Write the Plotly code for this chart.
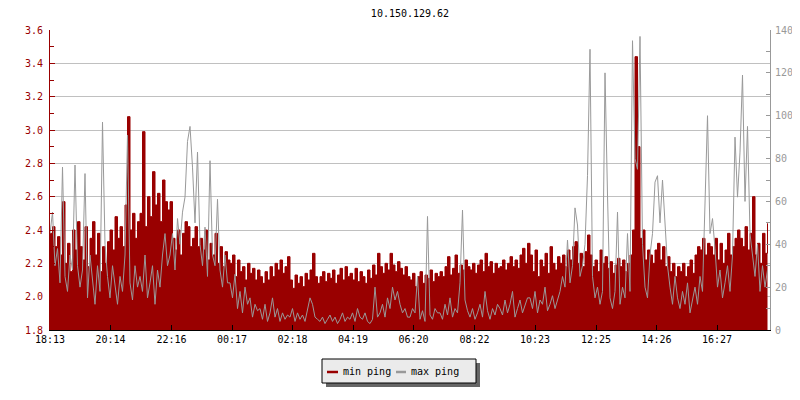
"""Ping latency chart for a single host: min ping (left axis) vs max ping (right axis)."""

from __future__ import annotations

from typing import Any

import pandas as pd
import plotly.graph_objects as go

# Host and time axis
HOST = "10.150.129.62"
START = "2024-01-01 18:13"
STEP_MIN = 5
TICK_LABELS = [
    "18:13", "20:14", "22:16", "00:17", "02:18", "04:19",
    "06:20", "08:22", "10:23", "12:25", "14:26", "16:27",
]

# min ping, one value per 5 minutes (left axis)
MIN_PING = [
    2.38, 2.42, 2.30, 2.36, 2.25, 2.57, 2.20, 2.32, 2.15, 2.40, 2.28, 2.45,
    2.30, 2.22, 2.42, 2.18, 2.35, 2.45, 2.25, 2.38, 2.15, 2.30, 2.20, 2.33,
    2.40, 2.28, 2.48, 2.35, 2.42, 2.30, 2.55, 3.08, 2.40, 2.50, 2.35, 2.45,
    2.50, 2.99, 2.42, 2.60, 2.48, 2.75, 2.55, 2.62, 2.45, 2.70, 2.57, 2.52,
    2.57, 2.35, 2.28, 2.40, 2.25, 2.38, 2.45, 2.42, 2.30, 2.35, 2.42, 2.30,
    2.35, 2.28, 2.40, 2.22, 2.32, 2.25, 2.38, 2.20, 2.30, 2.18, 2.27, 2.22,
    2.20, 2.25, 2.12, 2.22, 2.15, 2.18, 2.10, 2.20, 2.14, 2.17, 2.10, 2.16,
    2.12, 2.08, 2.15, 2.10, 2.18, 2.12, 2.20, 2.16, 2.22, 2.14, 2.18, 2.24,
    2.10, 2.05, 2.13, 2.08, 2.12, 2.06, 2.14, 2.10, 2.16, 2.26, 2.12, 2.08,
    2.12, 2.15, 2.09, 2.14, 2.11, 2.16, 2.08, 2.13, 2.17, 2.10, 2.18, 2.12,
    2.14, 2.10, 2.17, 2.09, 2.15, 2.12, 2.08, 2.16, 2.11, 2.19, 2.13, 2.26,
    2.18, 2.14, 2.20, 2.16, 2.26, 2.19, 2.15, 2.21, 2.17, 2.13, 2.18, 2.12,
    2.10, 2.14, 2.06, 2.12, 2.15, 2.08, 2.13, 2.11, 2.16, 2.09, 2.14, 2.12,
    2.15, 2.12, 2.18, 2.24, 2.13, 2.17, 2.25, 2.14, 2.19, 2.16, 2.22, 2.18,
    2.16, 2.20, 2.14, 2.19, 2.22, 2.15, 2.26, 2.18, 2.21, 2.14, 2.20, 2.17,
    2.18, 2.22, 2.16, 2.20, 2.24, 2.18, 2.22, 2.17, 2.25, 2.29, 2.20, 2.32,
    2.25, 2.15, 2.28, 2.12, 2.22, 2.18, 2.26, 2.14, 2.30, 2.20, 2.16, 2.24,
    2.20, 2.25, 2.18, 2.28, 2.22, 2.30, 2.33, 2.20, 2.26, 2.18, 2.27, 2.37,
    2.25, 2.18, 2.22, 2.15, 2.28, 2.20, 2.24, 2.17, 2.21, 2.14, 2.19, 2.23,
    2.18, 2.22, 2.15, 2.20, 2.25, 2.40, 3.44, 2.90, 2.35, 2.40, 2.22, 2.28,
    2.25, 2.20, 2.28, 2.32, 2.22, 2.30, 2.18, 2.24, 2.15, 2.20, 2.12, 2.18,
    2.15, 2.20, 2.12, 2.18, 2.22, 2.14, 2.25, 2.30, 2.28, 2.35, 2.25, 2.32,
    2.30, 2.25, 2.35, 2.22, 2.32, 2.20, 2.28, 2.38, 2.25, 2.30, 2.35, 2.40,
    2.35, 2.30, 2.42, 2.28, 2.38, 2.60, 2.25, 2.32, 2.20, 2.38, 2.26, 2.44,
]

# max ping, same timestamps (right axis)
MAX_PING = [
    45, 55, 30, 38, 22, 76, 25, 18, 35, 28, 77, 30,
    20, 28, 73, 15, 35, 22, 12, 30, 18, 97, 40, 25,
    15, 30, 20, 12, 25, 18, 35, 91, 22, 14, 30, 20,
    25, 18, 35, 15, 22, 30, 12, 28, 20, 35, 45, 30,
    35, 45, 28, 52, 40, 55, 62, 88, 95, 76, 50, 83,
    40, 30, 48, 25, 79, 35, 30, 61, 28, 20, 35, 22,
    22, 15, 26, 10, 18, 8, 20, 12, 15, 6, 12, 9,
    10, 5, 12, 4, 8, 15, 6, 10, 4, 8, 5, 7,
    6, 10, 4, 8, 5, 7, 4, 9, 15, 12, 6, 5,
    4, 6, 3, 5, 7, 4, 6, 3, 5, 8, 4, 6,
    5, 8, 4, 10, 6, 5, 8, 4, 3, 5, 20, 6,
    8, 12, 6, 15, 10, 20, 14, 18, 12, 8, 10, 6,
    6, 10, 8, 25, 5, 9, 4, 53, 7, 5, 10, 8,
    8, 5, 12, 7, 15, 6, 10, 8, 22, 56, 14, 9,
    6, 10, 5, 8, 12, 6, 18, 9, 5, 10, 7, 12,
    10, 7, 14, 8, 12, 18, 6, 10, 14, 8, 12, 15,
    15, 10, 18, 8, 14, 12, 20, 9, 12, 16, 10, 14,
    18, 25, 20, 42, 22, 30, 57, 49, 25, 30, 40, 72,
    131, 25, 15, 20, 12, 18, 120, 63, 15, 10, 18, 55,
    12, 20, 15, 45, 18, 135, 80, 75, 137, 40, 20, 15,
    35, 45, 69, 72, 50, 70, 52, 30, 20, 12, 25, 15,
    10, 18, 12, 22, 8, 15, 20, 12, 25, 18, 64, 100,
    45, 52, 38, 20, 28, 15, 22, 30, 18, 35, 90, 62,
    83, 119, 60, 95, 45, 35, 25, 40, 18, 30, 20, 28,
]

_RED = "#990000"
_GREY = "#999999"
_GRID = "#c0c0c0"
_FONT = "DejaVu Sans Mono"

# The page body keeps its default 8px margin, so the figure is drawn 8px
# right/down of the window corner. Sizes are chosen so the plot area lands
# on window pixels x 50..770, y 30..330 (automargin is switched off below,
# otherwise the default template widens the right margin).
_OFF = 8
_W, _H = 800 - _OFF, 400 - _OFF
_L, _T = 50 - _OFF, 30 - _OFF
_R, _B = _W - _L - 720, _H - _T - 300


def _px(x: float) -> float:
    """Window pixel x -> paper coordinate."""
    return (x - 50) / 720


def _py(y: float) -> float:
    """Window pixel y -> paper coordinate."""
    return (330 - y) / 300


def _tick_times(start: pd.Timestamp) -> list[pd.Timestamp]:
    out = []
    for lab in TICK_LABELS:
        t = pd.Timestamp(f"{start.date()} {lab}")
        if t < start:
            t += pd.Timedelta(days=1)
        out.append(t)
    return out


def build_ping_chart() -> Any:
    start = pd.Timestamp(START)
    times = pd.date_range(start, periods=len(MIN_PING), freq=f"{STEP_MIN}min")

    fig: Any = go.Figure()
    fig.add_trace(
        go.Scatter(
            x=times,
            y=MIN_PING,
            name="min ping",
            mode="lines",
            line={"color": _RED, "width": 1, "shape": "hv"},
            fill="tozeroy",
            fillcolor=_RED,
        )
    )
    fig.add_trace(
        go.Scatter(
            x=times,
            y=MAX_PING,
            name="max ping",
            yaxis="y2",
            mode="lines",
            line={"color": _GREY, "width": 1},
        )
    )

    tick_font = {"family": _FONT, "size": 10}
    fig.update_layout(
        width=_W,
        height=_H,
        margin={"l": _L, "r": _R, "t": _T, "b": _B, "autoexpand": False},
        paper_bgcolor="white",
        plot_bgcolor="white",
        showlegend=False,
        title={
            "text": HOST,
            "x": _px(410),
            "xref": "paper",
            "xanchor": "center",
            "yref": "container",
            "y": 1 - (13 - _OFF) / _H,
            "yanchor": "middle",
            "font": {"family": _FONT, "size": 10, "color": "black"},
        },
        xaxis={
            "automargin": False,
            "range": [start, start + pd.Timedelta(minutes=1440)],
            "tickvals": _tick_times(start),
            "ticktext": TICK_LABELS,
            "showgrid": False,
            "zeroline": False,
            "showline": True,
            "linecolor": "black",
            "linewidth": 1,
            "ticks": "inside",
            "ticklen": 5,
            "tickcolor": "black",
            "tickfont": {**tick_font, "color": "black"},
        },
        yaxis={
            "automargin": False,
            "range": [1.8, 3.6],
            "dtick": 0.2,
            "tickformat": ".1f",
            "showgrid": True,
            "gridcolor": _GRID,
            "gridwidth": 1,
            "zeroline": False,
            "showline": True,
            "linecolor": _RED,
            "ticks": "inside",
            "ticklen": 5,
            "tickcolor": _RED,
            "ticklabelstandoff": 4,
            "minor": {"dtick": 0.1, "ticks": "inside", "ticklen": 4, "tickcolor": _RED, "showgrid": False},
            "tickfont": {**tick_font, "color": _RED},
        },
        yaxis2={
            "automargin": False,
            "range": [0, 140],
            "dtick": 20,
            "overlaying": "y",
            "side": "right",
            "showgrid": False,
            "zeroline": False,
            "showline": True,
            "linecolor": _GREY,
            "ticks": "inside",
            "ticklen": 4,
            "tickcolor": _GREY,
            "ticklabelstandoff": 2,
            "minor": {"dtick": 10, "ticks": "inside", "ticklen": 4, "tickcolor": _GREY},
            "tickfont": {**tick_font, "color": _GREY},
        },
    )

    # legend drawn by hand: shadow, box, two short swatches and labels
    box = (322, 359, 476, 383)
    fig.add_shape(
        type="rect", xref="paper", yref="paper",
        x0=_px(box[0] + 4), x1=_px(box[2] + 4), y0=_py(box[1] + 4), y1=_py(box[3] + 4),
        fillcolor="#666666", line={"width": 0},
    )
    fig.add_shape(
        type="rect", xref="paper", yref="paper",
        x0=_px(box[0]), x1=_px(box[2]), y0=_py(box[1]), y1=_py(box[3]),
        fillcolor="#ebebeb", line={"color": "black", "width": 1},
    )
    for (x0, x1, color, label, tx) in [
        (327, 338, _RED, "min ping", 341),
        (396, 406, _GREY, "max ping", 409),
    ]:
        fig.add_shape(
            type="line", xref="paper", yref="paper",
            x0=_px(x0), x1=_px(x1), y0=_py(372), y1=_py(372),
            line={"color": color, "width": 2.5},
        )
        fig.add_annotation(
            text=label, xref="paper", yref="paper",
            x=_px(tx), y=_py(371), xanchor="left", yanchor="middle",
            showarrow=False, font={"family": _FONT, "size": 10, "color": "black"},
        )
    return fig


fig = build_ping_chart()
fig.write_html("out.html")
